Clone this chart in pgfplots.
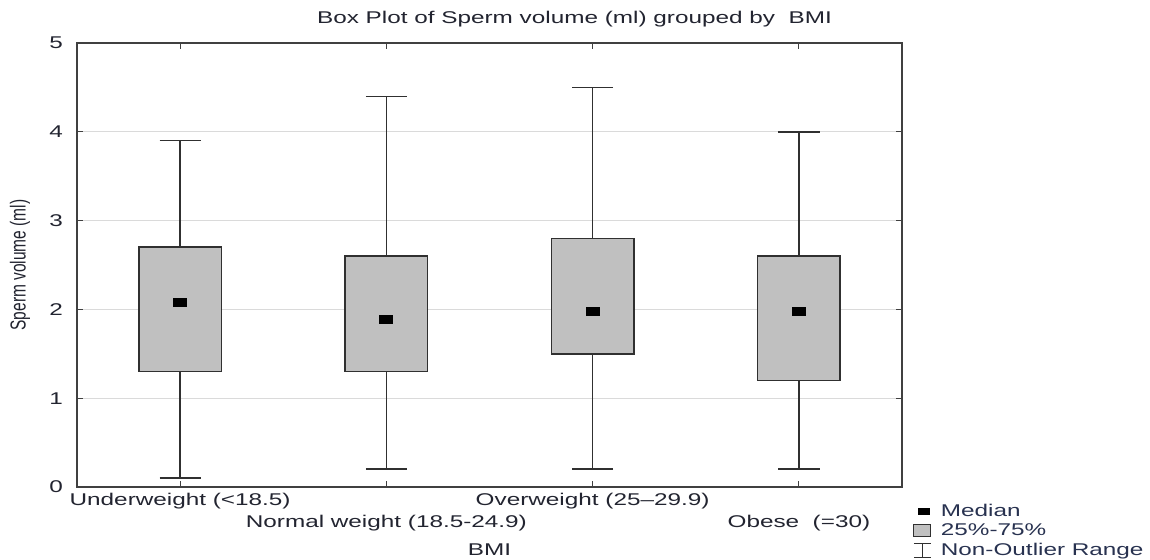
\documentclass[border=0pt]{standalone}
\usepackage{fontspec}
\setmainfont{Liberation Sans}[FakeStretch=1.43]
\newfontfamily\plainfont{Liberation Sans}
\usepackage{pgfplots}
\pgfplotsset{compat=1.18}
\usepgfplotslibrary{statistics}
\definecolor{boxgray}{RGB}{192,192,192}
\definecolor{edge}{RGB}{48,48,48}
\definecolor{axiscol}{RGB}{64,64,64}
\definecolor{gridcol}{RGB}{218,218,218}
\definecolor{txt}{RGB}{34,36,48}
\definecolor{legtxt}{RGB}{40,50,80}
\begin{document}
\begin{tikzpicture}[font=\fontsize{17pt}{18pt}\selectfont]
\useasboundingbox (0,0) rectangle (1150pt,559pt);
\begin{axis}[
  at={(77pt,72pt)}, anchor=south west,
  scale only axis, width=825pt, height=444pt,
  xmin=-0.5, xmax=3.5, ymin=0, ymax=5,
  xtick={0,1,2,3},
  xticklabels={Underweight (<18.5), \raisebox{-22pt}[\height]{Normal weight (18.5-24.9)}, Overweight (25–29.9), \raisebox{-22pt}[\height]{Obese\ \ (=30)}},
  ytick={0,1,2,3,4,5},
  ymajorgrids, grid style={gridcol, line width=1pt},
  axis line style={axiscol, line width=1.6pt},
  major tick style={axiscol, line width=1.2pt},
  major tick length=6pt,
  tick align=inside,
  /pgf/number format/assume math mode=true,
  xticklabel style={text=txt, inner sep=0pt, yshift=-6pt, anchor=north},
  yticklabel style={text=txt, inner sep=0pt, xshift=-14pt, anchor=east},
  title={Box Plot of Sperm volume (ml) grouped by\ \ BMI},
  title style={at={(axis description cs:0.603,1)}, anchor=base, yshift=13pt, inner sep=0pt, text=txt},
  xlabel={BMI},
  xlabel style={at={(axis description cs:0.5,0)}, anchor=base, yshift=-68pt, inner sep=0pt, text=txt},
  ylabel={\scalebox{1}[1.4]{\plainfont\fontsize{15.5pt}{16pt}\selectfont Sperm volume (ml)}},
  ylabel style={at={(axis description cs:-0.069,0.5)}, anchor=center, inner sep=0pt, text=txt},
  boxplot/draw direction=y,
  boxplot/draw/median/.code={},
  legend style={at={(axis description cs:1.0133,-0.036)}, anchor=north west, draw=none, fill=none,
    inner sep=0pt, row sep=3.5pt, font=\fontsize{17pt}{18pt}\selectfont, text=legtxt,
    nodes={inner sep=0.5pt},
    /tikz/every odd column/.append style={column sep=9pt}},
  legend cell align=left,
]
\addplot[boxplot prepared={draw position=0, median=2.08, upper quartile=2.7, lower quartile=1.3, upper whisker=3.9, lower whisker=0.1, box extend=0.4, whisker extend=0.2}, draw=edge, fill=boxgray, line width=1.5pt, solid, forget plot] coordinates {};
\addplot[boxplot prepared={draw position=1, median=1.89, upper quartile=2.6, lower quartile=1.3, upper whisker=4.4, lower whisker=0.2, box extend=0.4, whisker extend=0.2}, draw=edge, fill=boxgray, line width=1.5pt, solid, forget plot] coordinates {};
\addplot[boxplot prepared={draw position=2, median=1.98, upper quartile=2.8, lower quartile=1.5, upper whisker=4.5, lower whisker=0.2, box extend=0.4, whisker extend=0.2}, draw=edge, fill=boxgray, line width=1.5pt, solid, forget plot] coordinates {};
\addplot[boxplot prepared={draw position=3, median=1.98, upper quartile=2.6, lower quartile=1.2, upper whisker=4.0, lower whisker=0.2, box extend=0.4, whisker extend=0.2}, draw=edge, fill=boxgray, line width=1.5pt, solid, forget plot] coordinates {};
\addplot[only marks, mark=square*, mark size=4pt, mark options={fill=black, draw=black, line width=0pt, xscale=1.6}, forget plot] coordinates {(0,2.08) (1,1.89) (2,1.98) (3,1.98)};
\addlegendimage{legend image code/.code={\path[draw=none, fill=none] (0pt,-8pt) rectangle (18pt,8pt); \fill[black, draw=none] (5pt,-3.5pt) rectangle (17pt,3.5pt);}}
\addlegendentry{Median}
\addlegendimage{legend image code/.code={\path[draw=none, fill=none] (0pt,-8pt) rectangle (18pt,8pt); \draw[edge, fill=boxgray, line width=1.2pt] (0.5pt,-6pt) rectangle (17pt,6pt);}}
\addlegendentry{25\%-75\%}
\addlegendimage{legend image code/.code={\path[draw=none, fill=none] (0pt,-8pt) rectangle (18pt,8pt); \draw[edge, fill=none, line width=1.2pt] (0.5pt,-7pt) -- (17.5pt,-7pt) (9pt,-7pt) -- (9pt,7pt) (0.5pt,7pt) -- (17.5pt,7pt);}}
\addlegendentry{Non-Outlier Range}
\end{axis}
\end{tikzpicture}
\end{document}
